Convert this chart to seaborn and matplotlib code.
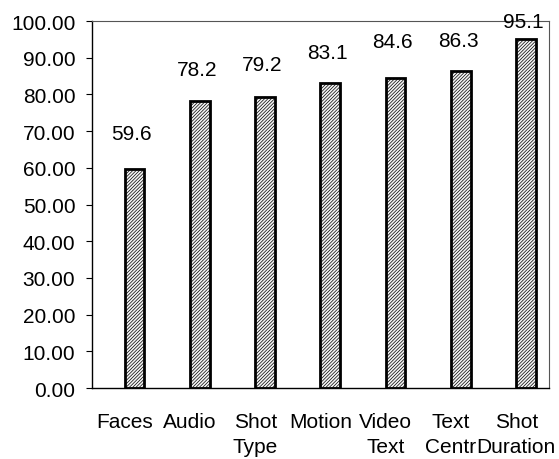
import matplotlib
matplotlib.use("Agg")
import matplotlib.pyplot as plt
import pandas as pd
import seaborn as sns

features = ["Faces", "Audio", "Shot\nType", "Motion", "Video\nText", "Text\nCentr", "Shot\nDuration"]
scores = [59.6, 78.2, 79.2, 83.1, 84.6, 86.3, 95.1]
y_ticks = [0, 10, 20, 30, 40, 50, 60, 70, 80, 90, 100]

# vertical distance (points) from each bar top to its value label
label_gaps = [26, 23, 24, 22, 26, 22, 13]

sns.set_theme(style="white")
plt.rcParams["font.family"] = ["Liberation Sans", "DejaVu Sans"]
plt.rcParams["hatch.color"] = "#9a9a9a"
plt.rcParams["hatch.linewidth"] = 0.5

df = pd.DataFrame({"feature": features, "score": scores, "series": "score"})

fig = plt.figure(figsize=(5.59, 4.60), dpi=100)
ax = fig.add_axes([0.1646, 0.1543, 0.8174, 0.7977])

sns.barplot(data=df, x="feature", y="score", hue="series",
            hue_order=["blank", "score"], order=features,
            palette={"blank": "white", "score": "#f4f4f4"},
            width=0.6, dodge=True, legend=False, errorbar=None,
            edgecolor="black", linewidth=2.0, ax=ax)

for bar in ax.patches:
    bar.set_hatch("/" * 10)

for bar, value, gap in zip(ax.patches, scores, label_gaps):
    ax.annotate(f"{value:.1f}", (bar.get_x() + bar.get_width() / 2, bar.get_height()),
                xytext=(-2, gap), textcoords="offset points",
                ha="center", va="center", fontsize=15, color="black",
                annotation_clip=False)

ax.set_xlim(-0.5, len(features) - 0.5)
ax.set_ylim(0, 100)
ax.set_yticks(y_ticks)
ax.set_yticklabels([f"{t:.2f}" for t in y_ticks])
ax.set_xlabel("")
ax.set_ylabel("")

ax.tick_params(axis="y", which="both", left=True, length=4, width=0.8,
               direction="out", pad=8, labelsize=15, colors="black")
ax.tick_params(axis="x", bottom=False, pad=11, labelsize=15, colors="black")
for lab in ax.get_xticklabels():
    lab.set_linespacing(1.45)
    lab.set_verticalalignment("top")

for side in ["left", "bottom"]:
    ax.spines[side].set_color("black")
    ax.spines[side].set_linewidth(1.0)
for side in ["top", "right"]:
    ax.spines[side].set_color("#555555")
    ax.spines[side].set_linewidth(0.8)

fig.savefig("out.png", dpi=100, facecolor="white")
